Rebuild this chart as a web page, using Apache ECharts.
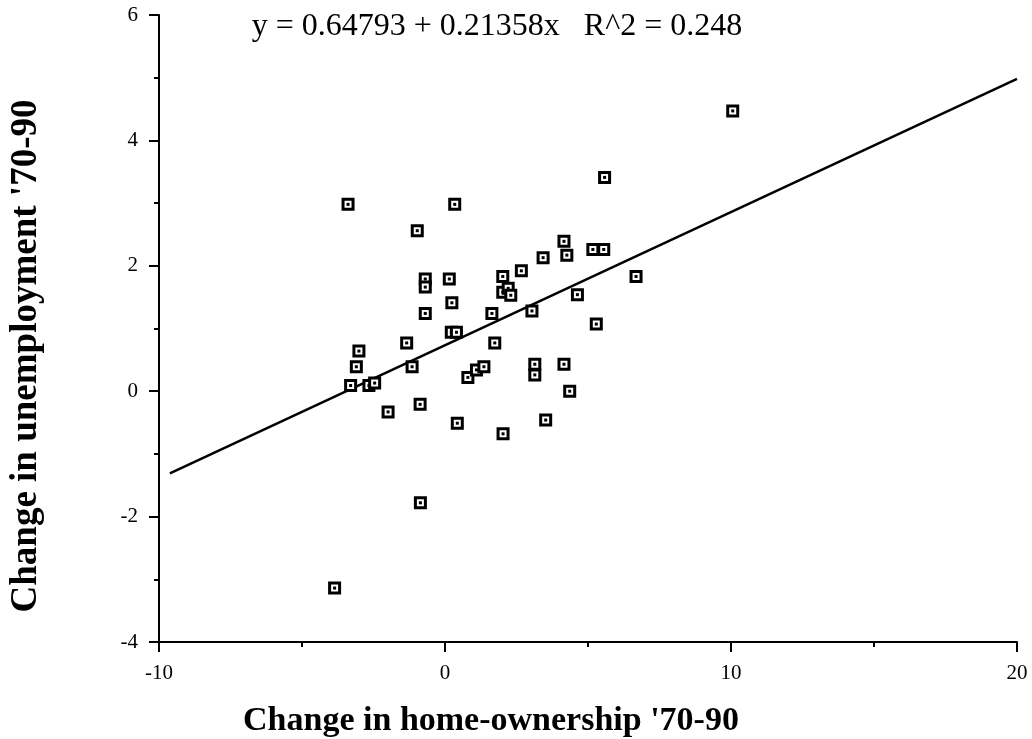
<!DOCTYPE html>
<html>
<head>
<meta charset="utf-8">
<script src="https://cdn.jsdelivr.net/npm/echarts@6/dist/echarts.min.js"></script>
<style>
  html, body { margin: 0; padding: 0; background: #fff; }
  #chart { width: 1032px; height: 739px; }
</style>
</head>
<body>
<div id="chart"></div>
<script>
// values
const homeOwnershipChange = [
    -3.39, 0.34, -0.97, -0.69, -0.69, 0.15, 2.02, 2.67, 2.02, 2.21,
    2.30, 0.24, -0.69, 1.64, 3.04, 0.22, 0.40, -1.34, 1.74, -3.01,
    -3.10, -1.15, -3.30, -2.66, -2.46, 0.80, 1.10, 1.36, -1.99, -0.87,
    0.43, 2.03, 3.14, 3.14, 4.16, 4.36, 3.52, -0.86, -3.86, 4.16,
    4.26, 5.17, 5.55, 3.43, 6.68, 4.63, 5.29, 5.58, 10.06
];
const unemploymentChange = [
    2.98, 2.98, 2.56, 1.79, 1.66, 1.79, 1.83, 1.92, 1.58, 1.64,
    1.53, 1.41, 1.24, 1.24, 1.28, 0.94, 0.94, 0.77, 0.77, 0.64,
    0.39, 0.39, 0.09, 0.09, 0.13, 0.22, 0.34, 0.39, -0.33, -0.21,
    -0.51, -0.68, 0.43, 0.26, 0.43, 0.00, -0.46, -1.78, -3.14, 2.39,
    2.17, 2.26, 2.26, 2.13, 1.83, 1.54, 1.07, 3.41, 4.47
];

// fitted line end points
const fitLineX = [-9.62, 20];
const fitLineY = [-1.31, 4.98];

const equationText = 'y = 0.64793 + 0.21358x   R^2 = 0.248';
const xAxisName = "Change in home-ownership '70-90";
const yAxisName = "Change in unemployment '70-90";

const points = homeOwnershipChange.map((x, i) => [x, unemploymentChange[i]]);
const fitLine = fitLineX.map((x, i) => [x, fitLineY[i]]);

const serif = 'Liberation Serif, Times New Roman, serif';

const chart = echarts.init(document.getElementById('chart'));

const axisCommon = {
    splitLine: { show: false },
    axisLine: { show: true, onZero: false, lineStyle: { color: '#000', width: 2 } },
    axisTick: { show: true, inside: false, length: 10, lineStyle: { color: '#000', width: 2 } },
    minorTick: { show: true, splitNumber: 2, length: 5, lineStyle: { color: '#000', width: 2 } },
    axisLabel: { color: '#000', fontFamily: serif, fontSize: 21 }
};

const option = {
    backgroundColor: '#fff',
    animation: false,
    grid: { left: 159, right: 15, top: 15, bottom: 97 },
    xAxis: Object.assign({}, axisCommon, {
        type: 'value',
        min: -10,
        max: 20,
        interval: 10,
        axisLabel: Object.assign({}, axisCommon.axisLabel, { margin: 21 })
    }),
    yAxis: Object.assign({}, axisCommon, {
        type: 'value',
        min: -4,
        max: 6,
        interval: 2,
        axisLabel: Object.assign({}, axisCommon.axisLabel, { margin: 21 })
    }),
    graphic: [
        {
            type: 'text',
            style: { text: equationText, x: 497, y: 27, textAlign: 'center', textVerticalAlign: 'middle',
                     font: '32px ' + serif, fill: '#000' }
        },
        {
            type: 'text',
            style: { text: xAxisName, x: 491, y: 721, textAlign: 'center', textVerticalAlign: 'middle',
                     font: 'bold 34px ' + serif, fill: '#000' }
        },
        {
            type: 'text', x: 26, y: 356, rotation: Math.PI / 2,
            style: { text: yAxisName, x: 0, y: 0, textAlign: 'center', textVerticalAlign: 'middle',
                     font: 'bold 37px ' + serif, fill: '#000' }
        }
    ],
    series: [
        {
            type: 'line',
            data: fitLine,
            symbol: 'none',
            lineStyle: { color: '#000', width: 2.5 },
            z: 1
        },
        {
            type: 'custom',
            data: points,
            z: 2,
            renderItem: function (params, api) {
                const p = api.coord([api.value(0), api.value(1)]);
                return {
                    type: 'group',
                    children: [
                        {
                            type: 'rect',
                            shape: { x: p[0] - 5, y: p[1] - 5, width: 10, height: 10 },
                            style: { fill: '#fff', stroke: '#000', lineWidth: 3 }
                        },
                        {
                            type: 'rect',
                            shape: { x: p[0] - 1.5, y: p[1] - 1.5, width: 3, height: 3 },
                            style: { fill: '#000' }
                        }
                    ]
                };
            }
        }
    ]
};

chart.setOption(option);
</script>
</body>
</html>
